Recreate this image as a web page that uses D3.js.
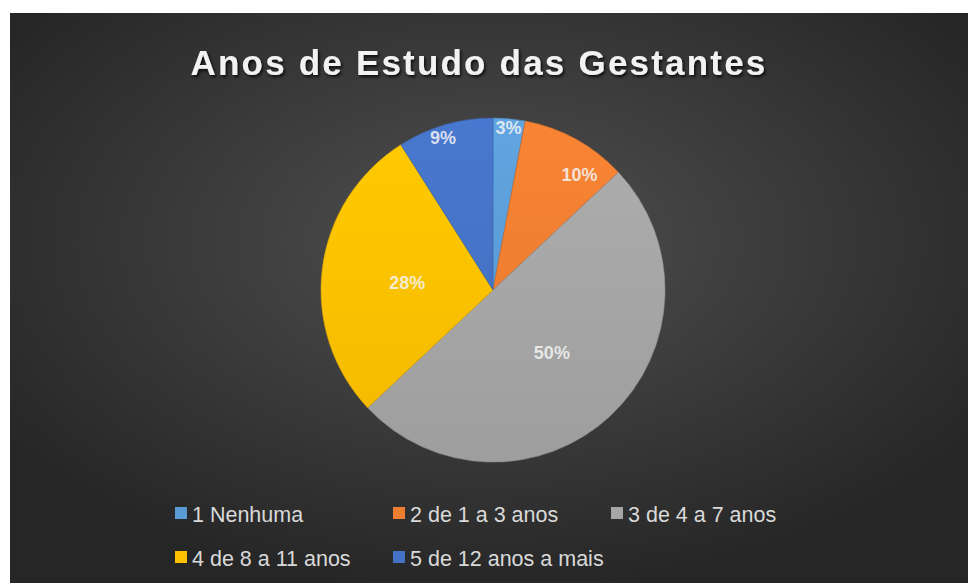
<!DOCTYPE html>
<html><head><meta charset="utf-8">
<script src="https://cdn.jsdelivr.net/npm/d3@7"></script>
<style>html,body{margin:0;padding:0;background:#fff;}svg{display:block;}</style>
</head><body>
<script>
const categories = ["1 Nenhuma","2 de 1 a 3 anos","3 de 4 a 7 anos","4 de 8 a 11 anos","5 de 12 anos a mais"];
const values = [3, 10, 50, 28, 9];
const colors = ["#5B9BD5","#ED7D31","#A5A5A5","#FFC000","#4472C4"];
const title = "Anos de Estudo das Gestantes";

const W = 968, H = 583;
const svg = d3.select("body").append("svg").attr("width", W).attr("height", H);
const defs = svg.append("defs");

const bg = defs.append("radialGradient").attr("id","bg").attr("cx","50%").attr("cy","40%").attr("r","62%");
bg.append("stop").attr("offset","0%").attr("stop-color","#505050");
bg.append("stop").attr("offset","100%").attr("stop-color","#262626");
svg.append("rect").attr("x",10).attr("y",13).attr("width",W-10).attr("height",H-13).attr("fill","url(#bg)");

const shadow = defs.append("filter").attr("id","ts").attr("x","-10%").attr("y","-30%").attr("width","120%").attr("height","160%");
shadow.append("feDropShadow").attr("dx",1.5).attr("dy",2).attr("stdDeviation",1.5).attr("flood-color","#000").attr("flood-opacity",0.8);

svg.append("text").attr("x",479).attr("y",75).attr("text-anchor","middle")
  .attr("font-family","Liberation Sans, Arial, sans-serif").attr("font-weight","bold")
  .attr("font-size",35).attr("letter-spacing",2.2).attr("fill","#f2f2f2").attr("filter","url(#ts)")
  .text(title);

const cx = 493, cy = 290, R = 172;
const pie = d3.pie().sort(null).value(d => d);
const arcs = pie(values);
const arc = d3.arc().innerRadius(0).outerRadius(R);
const color = d3.scaleOrdinal().domain(categories).range(colors);

colors.forEach((c,i) => {
  const g = defs.append("linearGradient").attr("id","g"+i).attr("gradientUnits","userSpaceOnUse")
    .attr("x1",0).attr("y1",-R).attr("x2",0).attr("y2",R);
  g.append("stop").attr("offset","0%").attr("stop-color", d3.color(c).brighter(0.15));
  g.append("stop").attr("offset","100%").attr("stop-color", d3.color(c).darker(0.12));
});

const pg = svg.append("g").attr("transform",`translate(${cx},${cy})`);
pg.selectAll("path").data(arcs).enter().append("path")
  .attr("d", arc).attr("fill",(d,i)=>"url(#g"+i+")")
  .attr("stroke",(d,i)=>d3.color(color(categories[i])).darker(0.4)).attr("stroke-width",0.6);

// label placement: radius fraction and angular offset (degrees) from slice mid-angle
const labelRadius = [0.95, 0.84, 0.5, 0.5, 0.93];
const labelShift = [0, 8, 0, -2, -2];
pg.selectAll("text").data(arcs).enter().append("text")
  .attr("transform",(d,i)=>{ const a=(d.startAngle+d.endAngle)/2 + labelShift[i]*Math.PI/180, r=R*labelRadius[i]; return `translate(${r*Math.sin(a)},${-r*Math.cos(a)})`; })
  .attr("text-anchor","middle").attr("dy","0.35em")
  .attr("font-family","Liberation Sans, Arial, sans-serif").attr("font-weight","bold")
  .attr("font-size",18).attr("fill","#f4f4f4").attr("fill-opacity",0.85)
  .text(d => d.value + "%");

const legendPos = [[175,513],[393,513],[611,513],[175,557],[393,557]];
const lg = svg.append("g");
categories.forEach((c,i) => {
  const [x,y] = legendPos[i];
  lg.append("rect").attr("x",x).attr("y",y-6).attr("width",12).attr("height",12).attr("fill",color(c));
  lg.append("text").attr("x",x+17).attr("y",y+1).attr("dy","0.35em")
    .attr("font-family","Liberation Sans, Arial, sans-serif")
    .attr("font-size",21.5).attr("fill","#d9d9d9").text(c);
});
</script>
</body></html>
